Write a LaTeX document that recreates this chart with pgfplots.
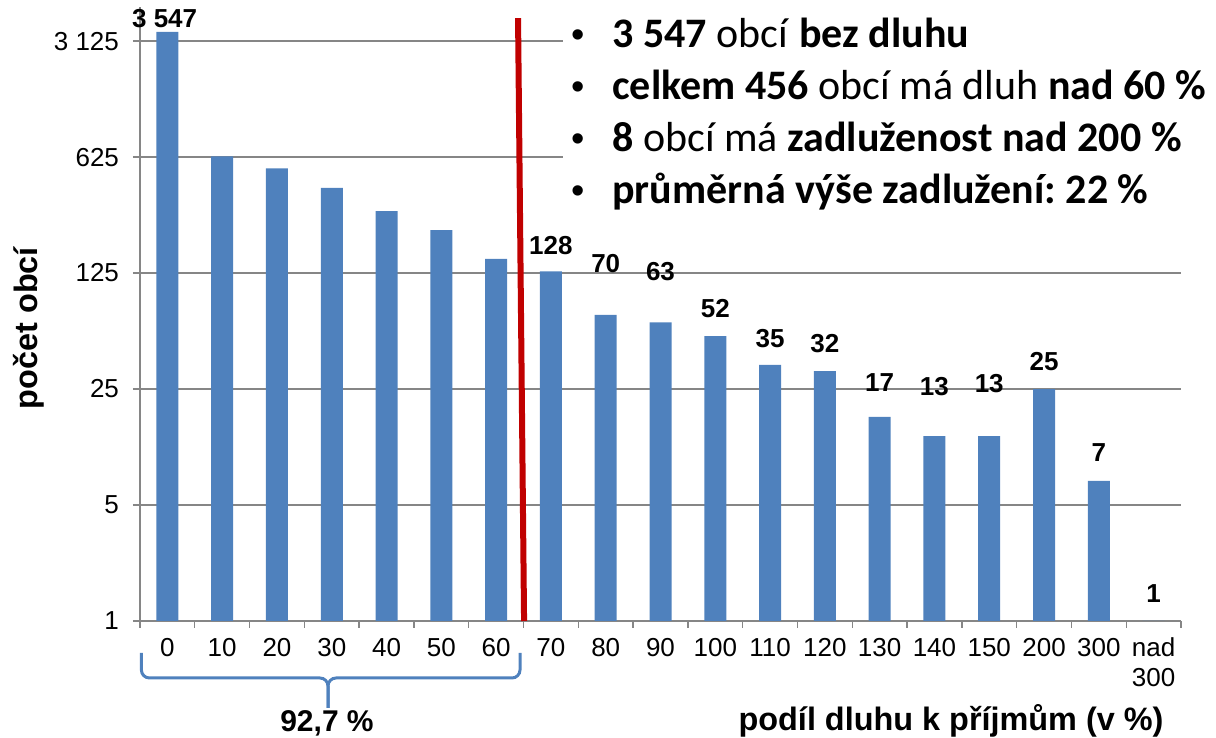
\documentclass[border=0pt]{standalone}
\usepackage{fontspec}
\setmainfont{Liberation Sans}
\newfontfamily\calibri{Carlito}
\usepackage{pgfplots}
\pgfplotsset{compat=1.18}
\definecolor{barblue}{HTML}{4F81BD}
\definecolor{gridgray}{HTML}{868686}
\definecolor{linered}{HTML}{C00000}
\frenchspacing
\begin{document}
\begin{tikzpicture}[x=1pt,y=1pt]
\begin{axis}[
  at={(0,0)}, anchor=south west,
  scale only axis, width=520.5pt, height=306.9pt,
  ymode=log, log basis y=5,
  ymin=1, ymax=5000,
  xmin=-0.5, xmax=18.5,
  clip=false,
  axis x line*=bottom, axis y line*=left,
  axis line style={gridgray, line width=0.7pt},
  ytick={1,5,25,125,625,3125},
  yticklabels={1,5,25,125,625,3 125},
  minor y tick num=0,
  ymajorgrids, grid style={gridgray, line width=0.7pt},
  xtick={0,...,18},
  xticklabels={0,10,20,30,40,50,60,70,80,90,100,110,120,130,140,150,200,300,{nad\\300}},
  minor xtick={-0.5,0.5,...,18.5},
  major x tick style={draw=none},
  minor x tick style={gridgray, line width=0.7pt},
  tick align=outside,
  major tick length=3.5pt, minor tick length=3.5pt,
  y tick style={gridgray, line width=0.7pt},
  /pgf/number format/assume math mode=true,
  xticklabel style={font=\fontsize{13}{15}\selectfont, align=center, yshift=-1.5pt},
  yticklabel style={font=\fontsize{13}{15}\selectfont, xshift=-3.5pt},
]
\addplot[ybar, bar width=11pt, fill=barblue, draw=none] coordinates {
 (0,3547) (1,630) (2,534) (3,407) (4,295) (5,227) (6,152)
 (7,128) (8,70) (9,63) (10,52) (11,35) (12,32) (13,17) (14,13) (15,13)
 (16,25) (17,7) (18,1)
};
\addplot[draw=none, mark=none, point meta=explicit symbolic,
  nodes near coords,
  nodes near coords style={anchor=center, font=\fontsize{13}{15}\selectfont\bfseries}]
 coordinates {
 (-0.05,4297) [3 547]
 (7,184) [128]
 (8,143) [70]
 (9,127) [63]
 (10,76) [52]
 (11,50.7) [35]
 (12,46.7) [32]
 (13,27.2) [17]
 (14,25.7) [13]
 (15,26.8) [13]
 (16,36.4) [25]
 (17,10.3) [7]
 (18,1.47) [1]
};
\draw[linered, line width=3pt] (axis cs:6.40,4297) -- (axis cs:6.51,1);
\end{axis}
% text box
\fill[white] (211.5pt,309.5pt) rectangle (538pt,199pt);
\begin{scope}[every node/.style={inner sep=0pt, font=\calibri\fontsize{21}{24}\selectfont}]
\node[anchor=base, font=\fontsize{19}{22}\selectfont] at (219pt,286.5pt) {•};
\node[anchor=base west] at (236pt,286.5pt) {\textbf{3 547} obcí \textbf{bez dluhu}};
\node[anchor=base, font=\fontsize{19}{22}\selectfont] at (219pt,260.5pt) {•};
\node[anchor=base west] at (236pt,260.5pt) {\textbf{celkem 456} obcí má dluh \textbf{nad 60 \%}};
\node[anchor=base, font=\fontsize{19}{22}\selectfont] at (219pt,234.5pt) {•};
\node[anchor=base west] at (236pt,234.5pt) {\textbf{8} obcí má \textbf{zadluženost nad 200 \%}};
\node[anchor=base, font=\fontsize{19}{22}\selectfont] at (219pt,208.5pt) {•};
\node[anchor=base west] at (236pt,208.5pt) {\textbf{průměrná výše zadlužení: 22 \%}};
\end{scope}
% axis labels
\node[rotate=90, font=\fontsize{16.2}{19}\selectfont\bfseries] at (-55.5pt,146.5pt) {počet obcí};
\node[font=\fontsize{16.2}{19}\selectfont\bfseries] at (405.5pt,-50pt) {podíl dluhu k příjmům (v \%)};
% brace
\draw[barblue, line width=1.5pt, rounded corners=4pt] (0.7pt,-16pt) -- (0.7pt,-28.5pt) -- (94pt,-28.5pt) -- (94pt,-43.5pt);
\draw[barblue, line width=1.5pt, rounded corners=4pt] (190pt,-16pt) -- (190pt,-28.5pt) -- (94pt,-28.5pt) -- (94pt,-43.5pt);
\node[font=\fontsize{15}{17}\selectfont\bfseries] at (93.5pt,-51pt) {92,7 \%};
\pgfresetboundingbox
\path[use as bounding box] (-70pt,-58.5pt) rectangle (538pt,310.5pt);
\end{tikzpicture}
\end{document}
